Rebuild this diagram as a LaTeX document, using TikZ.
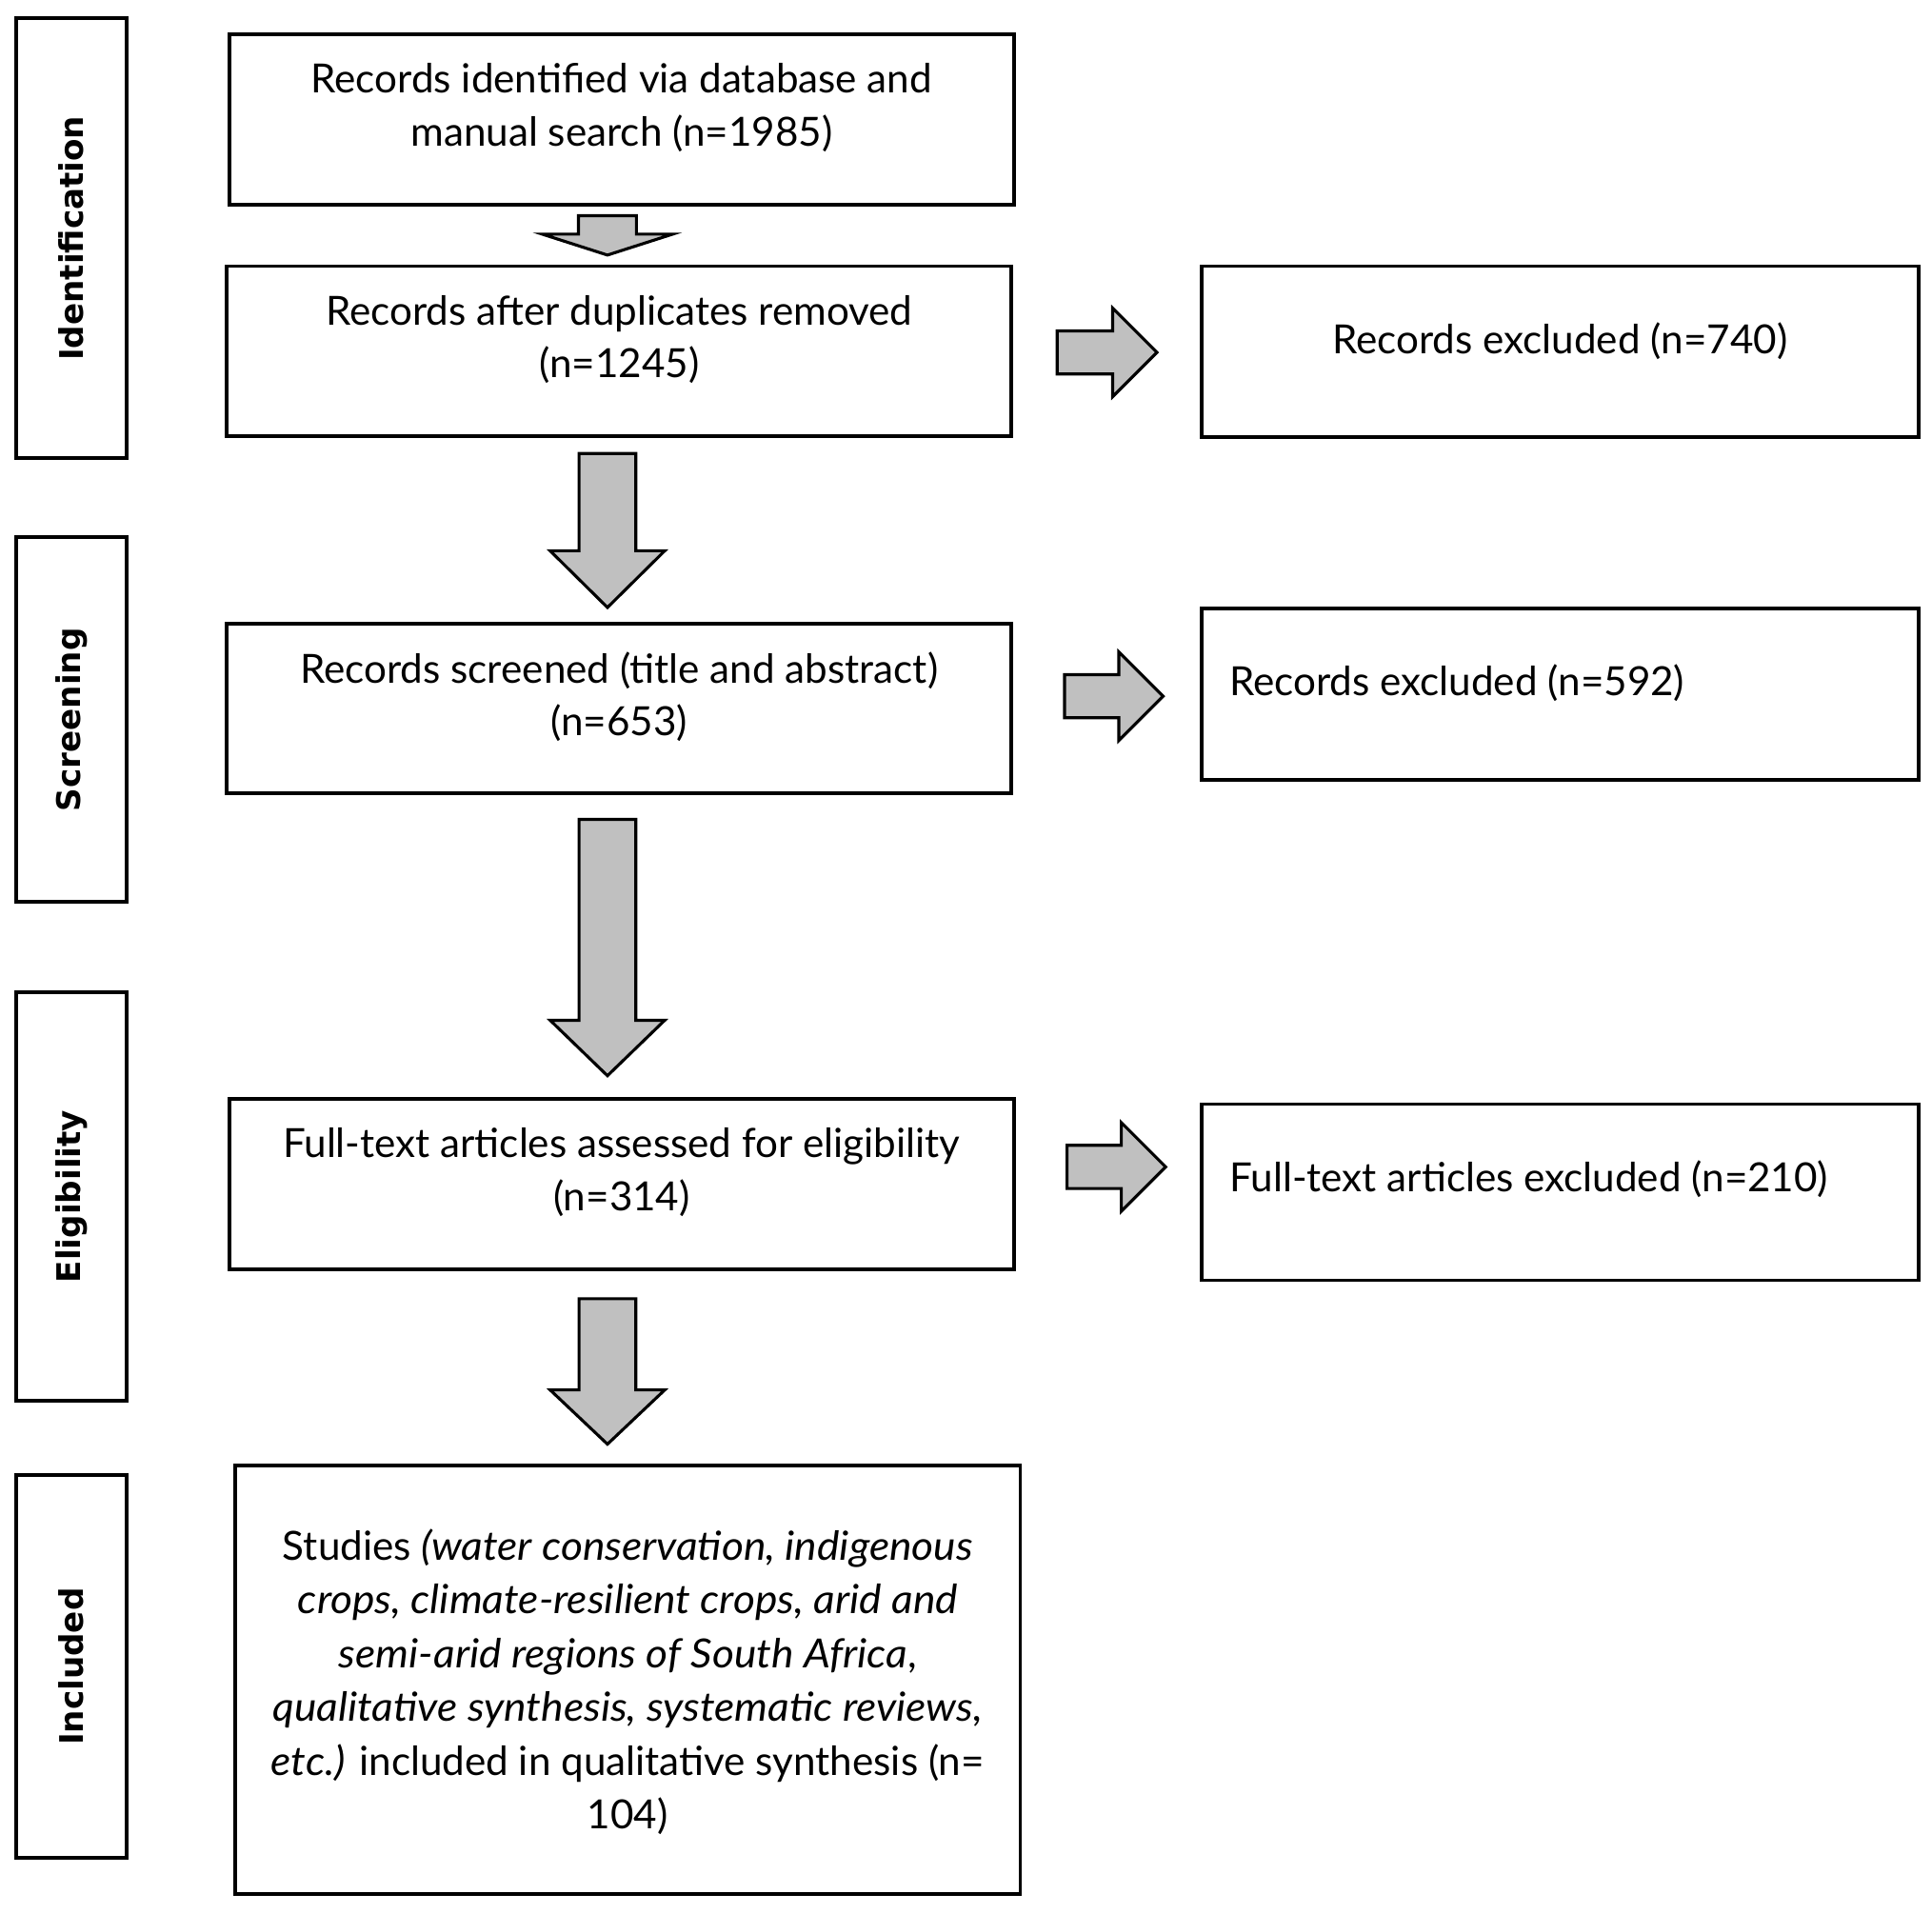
\documentclass[tikz,border=0pt]{standalone}
\usepackage{fontspec}
\setmainfont{Lato}[ItalicFeatures={FakeStretch=1.05}]
\newfontfamily\sidefont{DejaVu Sans}
\definecolor{arrowgray}{RGB}{192,192,192}
\tikzset{
  box/.style={draw=black, line width=1.5pt, rectangle, inner sep=0pt, fill=white},
  txt/.style={font=\fontsize{16.3}{21.5}\selectfont, align=center, inner sep=0pt},
  sidetxt/.style={font=\sidefont\bfseries\fontsize{13.2}{15}\selectfont, rotate=90, inner sep=0pt},
  blockarrow/.style={draw=black, line width=1.2pt, fill=arrowgray, line join=miter},
}
% name, x1, y1, x2, y2
\newcommand\pbox[5]{\node[box, minimum width={0.5pt*(#4-#2)}, minimum height={0.5pt*(#5-#3)}] (#1) at ({(#2+#4)/2},{(#3+#5)/2}) {};}
% cx, top, base, tip, shafthalf, headhalf
\newcommand\downblock[6]{\draw[blockarrow] ({#1-#5},#2) -- ({#1+#5},#2) -- ({#1+#5},#3) -- ({#1+#6},#3) -- (#1,#4) -- ({#1-#6},#3) -- ({#1-#5},#3) -- cycle;}
% cy, left, base, tip, shafthalf, headhalf
\newcommand\rightblock[6]{\draw[blockarrow] (#2,{#1-#5}) -- (#3,{#1-#5}) -- (#3,{#1-#6}) -- (#4,#1) -- (#3,{#1+#6}) -- (#3,{#1+#5}) -- (#2,{#1+#5}) -- cycle;}
\begin{document}
\begin{tikzpicture}[x=0.5pt, y=-0.5pt]
\useasboundingbox (0,0) rectangle (1568,1553.3);
% side boxes
\pbox{s1}{13}{15}{103}{372}
\pbox{s2}{13}{436}{103}{732}
\pbox{s3}{13}{805}{103}{1137}
\pbox{s4}{13}{1197}{103}{1508}
\node[sidetxt] at (s1.center) {Identification};
\node[sidetxt] at (s2.center) {Screening};
\node[sidetxt] at (s3.center) {Eligibility};
\node[sidetxt] at (s4.center) {Included};
% main boxes
\pbox{b1}{186}{28}{823}{166}
\pbox{b2}{184}{216}{821}{354}
\pbox{b3}{184}{506}{821}{644}
\pbox{b4}{186}{892}{823}{1030}
\pbox{b5}{191}{1189}{828}{1537}
\pbox{r1}{975}{216}{1557}{355}
\pbox{r2}{975}{494}{1557}{633}
\pbox{r3}{975}{896}{1557}{1039}
% texts
\node[txt] (t1) at ([yshift=-30.5pt]b1.north) {Records identified via database and\\manual search (n=1985)};
\node[txt] (t2) at ([yshift=-30.5pt]b2.north) {Records after duplicates removed\\(n=1245)};
\node[txt] (t3) at ([yshift=-30.5pt]b3.north) {Records screened (title and abstract)\\(n=653)};
\node[txt] (t4) at ([yshift=-30.5pt]b4.north) {Full-text articles assessed for eligibility\\(n=314)};
\node[txt, font=\fontsize{16.3}{21.8}\selectfont] (t5) at ([yshift=-1pt]b5.center) {Studies \textit{(water conservation, indigenous}\\\textit{crops, climate-resilient crops, arid and}\\\textit{semi-arid regions of South Africa},\\\textit{qualitative synthesis, systematic reviews,}\\\textit{etc.)} included in qualitative synthesis (n=\\104)};
\node[txt] (tr1) at ([yshift=-31pt]r1.north) {Records excluded (n=740)};
\node[txt, anchor=west] (tr2) at ([xshift=12pt, yshift=-31pt]r2.north west) {Records excluded (n=592)};
\node[txt, anchor=west] (tr3) at ([xshift=12pt, yshift=-31pt]r3.north west) {Full-text articles excluded (n=210)};
% block arrows
\downblock{493}{175}{190}{207}{23.5}{53}
\downblock{493}{368}{447}{493}{23}{46.5}
\downblock{493}{665}{828}{873}{23}{46.5}
\downblock{493}{1054}{1128}{1172}{23}{46.5}
\rightblock{286}{858}{903}{939}{17.5}{36}
\rightblock{565}{864}{908}{944}{17.5}{36}
\rightblock{947}{866}{910}{946}{17.5}{36}
\end{tikzpicture}
\end{document}
